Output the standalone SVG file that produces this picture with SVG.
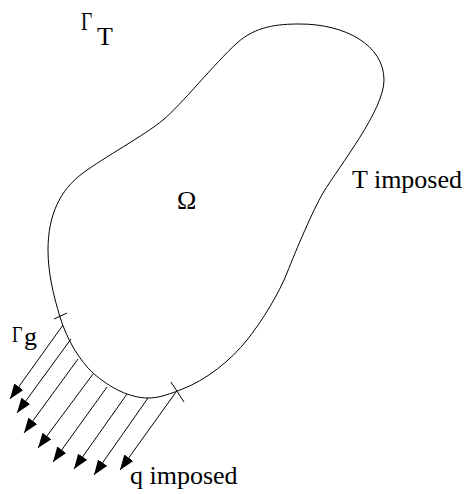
<svg xmlns="http://www.w3.org/2000/svg" width="470" height="494" viewBox="0 0 470 494">
<style>
.ln{stroke:#000;stroke-width:1;fill:none}
.lbl{font-family:'Liberation Serif','Times New Roman',serif;font-size:26px;fill:#000}
</style>
<defs>
<marker id="ah" markerUnits="userSpaceOnUse" markerWidth="16" markerHeight="12" refX="15" refY="5.5" orient="auto">
<path d="M0,0 L15,5.5 L0,11 z" fill="#000"/>
</marker>
</defs>
<rect width="470" height="494" fill="#fff"/>
<g id="domain">
<path class="ln" d="M300,24 C345,24 384,45 384,80 C384,110 340,165 323,193 C313,210 296,250 287,273 C279,293 263,320 247,340 C231,360 207,380 180,390 C167,395 158,398 148,398 C130,398 110,388 93,373 C80,361 67,340 60,317 C53,294 48,272 48,250 C48,215 60,190 83,173 C103,158 145,135 163,120 C181,105 215,63 237,43 C256,26 278,24 300,24 Z"/>
<line class="ln" x1="54" y1="319" x2="67" y2="313"/>
<line class="ln" x1="171" y1="382" x2="184" y2="402"/>
</g>
<g id="connectors">
<line class="ln" x1="63" y1="325" x2="10" y2="399" marker-end="url(#ah)"/>
<line class="ln" x1="71" y1="339" x2="17" y2="413" marker-end="url(#ah)"/>
<line class="ln" x1="78" y1="359" x2="24" y2="433" marker-end="url(#ah)"/>
<line class="ln" x1="93" y1="374" x2="38" y2="448" marker-end="url(#ah)"/>
<line class="ln" x1="107" y1="387" x2="53" y2="462" marker-end="url(#ah)"/>
<line class="ln" x1="127" y1="394" x2="74" y2="469" marker-end="url(#ah)"/>
<line class="ln" x1="148" y1="398" x2="94" y2="475" marker-end="url(#ah)"/>
<line class="ln" x1="176" y1="392" x2="120" y2="470" marker-end="url(#ah)"/>
</g>
<g id="labels">
<text class="lbl" transform="translate(81,30) scale(0.75,1)">Γ</text>
<text class="lbl" x="97" y="45">T</text>
<text class="lbl" transform="translate(12,342) scale(0.7,0.92)">Γ</text>
<text class="lbl" x="24" y="345">g</text>
<text class="lbl" x="177" y="209">Ω</text>
<text class="lbl" x="352" y="188">T imposed</text>
<text class="lbl" x="130" y="484">q imposed</text>
</g>
</svg>
